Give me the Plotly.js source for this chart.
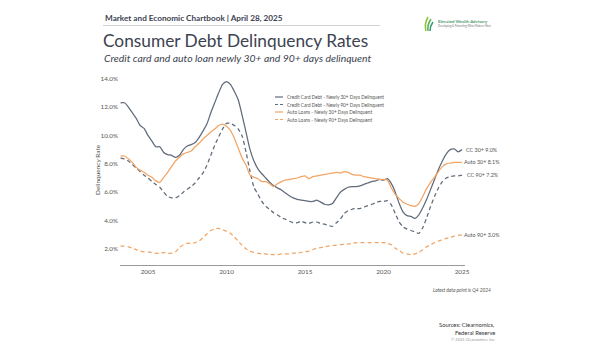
<!DOCTYPE html>
<html>
<head>
<meta charset="utf-8">
<script src="https://cdn.plot.ly/plotly-3.0.1.min.js"></script>
<style>
html,body{margin:0;padding:0;background:#fff;}
#chart{width:600px;height:350px;}
</style>
</head>
<body>
<div id="chart"></div>
<script>
// Quarterly data, 2003Q1 .. 2024Q4 (88 quarters), plotted at quarter end
const startYear = 2003;
const endYear = 2024;

// Credit card debt - newly 30+ days delinquent (%)
const cc30 = [
  12.3, 12.3, 12.0, 11.6,
  11.2, 10.7, 10.5, 10.0,
  9.6, 9.2, 9.2, 8.8,
  8.65, 8.6, 8.45, 8.6,
  9.0, 9.25, 9.35, 9.5,
  9.85, 10.3, 10.8, 11.6,
  12.3, 13.0, 13.6, 13.8,
  13.6, 13.1, 12.5, 11.4,
  10.2, 9.0, 8.2, 7.65,
  7.3, 7.0, 6.7, 6.45,
  6.3, 6.15, 5.95, 5.75,
  5.6, 5.5, 5.45, 5.4,
  5.35, 5.35, 5.45, 5.3,
  5.15, 5.1, 5.2, 5.6,
  6.0, 6.2, 6.35, 6.4,
  6.4, 6.45, 6.55, 6.65,
  6.75, 6.8, 6.9, 6.85,
  6.95, 6.6, 6.0, 5.2,
  4.6, 4.35, 4.3, 4.15,
  4.4, 4.9, 5.5, 6.2,
  6.9, 7.6, 8.2, 8.7,
  9.0, 9.05, 8.85, 9.0
];

// Credit card debt - newly 90+ days delinquent (%)
const cc90 = [
  8.4, 8.35, 8.2, 7.95,
  7.7, 7.45, 7.2, 7.0,
  6.75, 6.55, 6.35, 6.0,
  5.7, 5.6, 5.6, 5.75,
  6.0, 6.2, 6.4, 6.65,
  7.0, 7.35, 7.9, 8.6,
  9.3, 9.9, 10.45, 10.85,
  10.85, 10.7, 10.45, 9.95,
  8.8, 7.45, 6.35, 5.85,
  5.35, 5.0, 4.8, 4.55,
  4.4, 4.2, 4.1, 3.95,
  3.85, 3.85, 3.95, 3.85,
  3.8, 3.9, 3.9, 3.8,
  3.75, 3.65, 3.6, 3.85,
  4.1, 4.5, 4.7, 4.8,
  4.85, 4.85, 4.95, 5.05,
  5.15, 5.25, 5.35, 5.35,
  5.4, 5.1, 4.5, 3.9,
  3.55, 3.4, 3.3, 3.2,
  3.1, 3.5, 4.2, 5.0,
  5.7, 6.3, 6.75, 7.0,
  7.1, 7.15, 7.15, 7.2
];

// Auto loans - newly 30+ days delinquent (%)
const auto30 = [
  8.55, 8.55, 8.35, 8.1,
  7.75, 7.55, 7.4, 7.2,
  7.05, 6.8, 6.7, 7.05,
  7.4, 7.8, 8.2, 8.45,
  8.7, 8.8, 8.9, 9.2,
  9.45, 9.75, 10.0, 10.25,
  10.45, 10.7, 10.8, 10.65,
  10.35, 9.8, 9.1, 8.4,
  7.9, 7.2, 7.05, 6.95,
  6.75, 6.75, 6.6, 6.4,
  6.6, 6.75, 6.85, 6.9,
  6.95, 7.0, 7.1, 7.15,
  6.95, 7.1, 7.15, 7.2,
  7.25, 7.3, 7.35, 7.4,
  7.35, 7.45, 7.4, 7.25,
  7.2, 7.2, 7.1, 7.05,
  7.0, 6.95, 6.9, 6.9,
  6.85, 6.3, 5.85, 5.55,
  5.3, 5.15, 5.05, 5.0,
  5.2, 5.7, 6.25, 6.7,
  7.05, 7.45, 7.8, 8.0,
  8.05, 8.1, 8.1, 8.1
];

// Auto loans - newly 90+ days delinquent (%)
const auto90 = [
  2.2, 2.2, 2.15, 2.05,
  1.95, 1.85, 1.8, 1.8,
  1.75, 1.7, 1.7, 1.75,
  1.7, 1.7, 1.8, 2.1,
  2.3, 2.4, 2.4, 2.45,
  2.55, 2.8, 3.05, 3.3,
  3.4, 3.45, 3.35, 3.25,
  3.1, 2.85, 2.55, 2.25,
  2.0, 1.85, 1.75, 1.7,
  1.65, 1.65, 1.6, 1.6,
  1.6, 1.65, 1.65, 1.65,
  1.7, 1.7, 1.75, 1.8,
  1.85, 1.95, 2.05, 2.1,
  2.15, 2.2, 2.25, 2.25,
  2.3, 2.35, 2.35, 2.4,
  2.45, 2.45, 2.45, 2.45,
  2.45, 2.45, 2.45, 2.45,
  2.4, 2.3, 2.05, 1.9,
  1.7, 1.65, 1.6, 1.65,
  1.75, 1.95, 2.15, 2.3,
  2.45, 2.55, 2.65, 2.75,
  2.8, 2.9, 2.95, 3.0
];

const seriesNames = [
  "Credit Card Debt - Newly 30+ Days Delinquent",
  "Credit Card Debt - Newly 90+ Days Delinquent",
  "Auto Loans - Newly 30+ Days Delinquent",
  "Auto Loans - Newly 90+ Days Delinquent"
];
const endLabels = ["CC 30+", "CC 90+", "Auto 30+", "Auto 90+"];
const xTicks = [2005, 2010, 2015, 2020, 2025];
const yTicks = [2, 4, 6, 8, 10, 12, 14];
const yTickText = ["2.0%", "4.0%", "6.0%", "8.0%", "10.0%", "12.0%", "14.0%"];

// quarter-end positions (decimal years)
const quarterLabels = [];
const xq = [];
for (let y = startYear; y <= endYear; y++) {
  for (let q = 1; q <= 4; q++) {
    quarterLabels.push(y + "Q" + q);
    xq.push(y + q / 4);
  }
}

const GRAY = "#5f6a7a";
const ORANGE = "#f2a463";
const seriesData = [cc30, cc90, auto30, auto90];
const colors = [GRAY, GRAY, ORANGE, ORANGE];
const dashes = ["solid", "4px,3px", "solid", "4px,3px"];

const traces = seriesData.map((vals, i) => ({
  x: xq, y: vals, type: "scatter", mode: "lines", name: seriesNames[i],
  text: quarterLabels,
  line: {color: colors[i], width: 1.25, dash: dashes[i], shape: "spline", smoothing: 0.6},
  showlegend: false, hoverinfo: "skip"
}));

// plot area in pixels
const L = 120, R = 465, T = 73, B = 265;
const px = x => (x - L) / (R - L);
const py = y => (B - y) / (B - T);

const FONT = "Lato, 'Open Sans', sans-serif";
const TXT = "#3c4250";

const annotations = [];
function ann(x, y, text, opts) {
  annotations.push(Object.assign({
    xref: "paper", yref: "paper", x: px(x), y: py(y), text: text,
    showarrow: false, xanchor: "left", yanchor: "middle",
    font: {family: FONT, size: 7, color: TXT}
  }, opts || {}));
}

// Header
ann(103, 18, "<b>Market and Economic Chartbook | April 28, 2025</b>", {font: {family: FONT, size: 8.2, color: TXT}});
ann(101, 40, "Consumer Debt Delinquency Rates", {font: {family: FONT, size: 17.3, color: TXT}});
ann(102, 58, "<i>Credit card and auto loan newly 30+ and 90+ days delinquent</i>", {font: {family: FONT, size: 10.4, color: TXT}});
// Logo text
ann(436, 21.5, "<b>Elevated Wealth Advisory</b>", {font: {family: FONT, size: 4.3, color: "#4f9a6e"}});
ann(436, 26, "Developing & Protecting What Matters Most", {font: {family: FONT, size: 2.7, color: "#777"}});

// Y axis title
ann(97, 170, "Delinquency Rate", {textangle: -90, xanchor: "center", font: {family: FONT, size: 6.5, color: "#555"}});

// Legend (manual, compact)
const legY = [97, 104.5, 112, 119.5];
seriesNames.forEach((n, i) => {
  ann(285, legY[i], n, {font: {family: FONT, size: 4.7, color: "#555"}});
});

// End-of-line labels, anchored at the last data point
const lastX = xq[xq.length - 1];
const endShift = [2, 3, 0, 0];
seriesData.forEach((vals, i) => {
  const last = vals[vals.length - 1];
  annotations.push({
    xref: "x", yref: "y", x: lastX, y: last,
    text: endLabels[i] + " " + last.toFixed(1) + "%",
    showarrow: false, xanchor: "left", yanchor: "middle", xshift: endShift[i],
    font: {family: FONT, size: 5.4, color: "#555"}
  });
});

// Footer
ann(462, 290, "<i>Latest data point is Q4 2024</i>", {xanchor: "center", font: {family: FONT, size: 4.8, color: "#555"}});
ann(497, 324, "Sources: Clearnomics,", {xanchor: "right", font: {family: FONT, size: 5.8, color: "#333"}});
ann(497, 332, "Federal Reserve", {xanchor: "right", font: {family: FONT, size: 5.8, color: "#333"}});
ann(497, 339.5, "© 2025 Clearnomics, Inc.", {xanchor: "right", font: {family: FONT, size: 4, color: "#999"}});

const shapes = [];
// header rule
shapes.push({type: "line", xref: "paper", yref: "paper", x0: px(103), x1: px(380), y0: py(25.5), y1: py(25.5),
  line: {color: "#d0d3d8", width: 1}});
// legend samples
seriesNames.forEach((n, i) => {
  shapes.push({type: "line", xref: "paper", yref: "paper", x0: px(275), x1: px(283), y0: py(legY[i]), y1: py(legY[i]),
    line: {color: colors[i], width: 1.2, dash: i % 2 ? "3px,2px" : "solid"}});
});
// logo leaf
const leaf = [
  {d: "M 426 31 Q 424 24 428 17", c: "#8cc63f"},
  {d: "M 428 31 Q 427 25 431 19", c: "#5fb35a"},
  {d: "M 430 31 Q 430 26 433 22", c: "#3a9a7a"}
];
leaf.forEach(l => {
  const path = l.d.replace(/(\d+(?:\.\d+)?) (\d+(?:\.\d+)?)/g, (m, a, b) => px(+a).toFixed(4) + "," + py(+b).toFixed(4));
  shapes.push({type: "path", xref: "paper", yref: "paper", path: path, line: {color: l.c, width: 1.6}});
});

const layout = {
  width: 600, height: 350,
  margin: {l: L, r: 600 - R, t: T, b: 350 - B},
  paper_bgcolor: "#fff", plot_bgcolor: "#fff",
  showlegend: false,
  font: {family: FONT, color: "#555"},
  xaxis: {
    range: [2005 - 28 / 15.7, 2025 + 3 / 15.7],
    tickvals: xTicks, ticktext: xTicks.map(String),
    showgrid: false, zeroline: false, showline: true, linecolor: "#9a9a9a", linewidth: 1,
    ticks: "", tickfont: {family: FONT, size: 6.3, color: "#555"}
  },
  yaxis: {
    range: [0.87, 14.4],
    tickvals: yTicks, ticktext: yTickText,
    showgrid: false, zeroline: false, showline: false, ticks: "",
    ticklabelstandoff: 1,
    tickfont: {family: FONT, size: 6.3, color: "#555"}
  },
  annotations: annotations,
  shapes: shapes
};

Plotly.newPlot("chart", traces, layout, {staticPlot: true, displayModeBar: false});
</script>
</body>
</html>
